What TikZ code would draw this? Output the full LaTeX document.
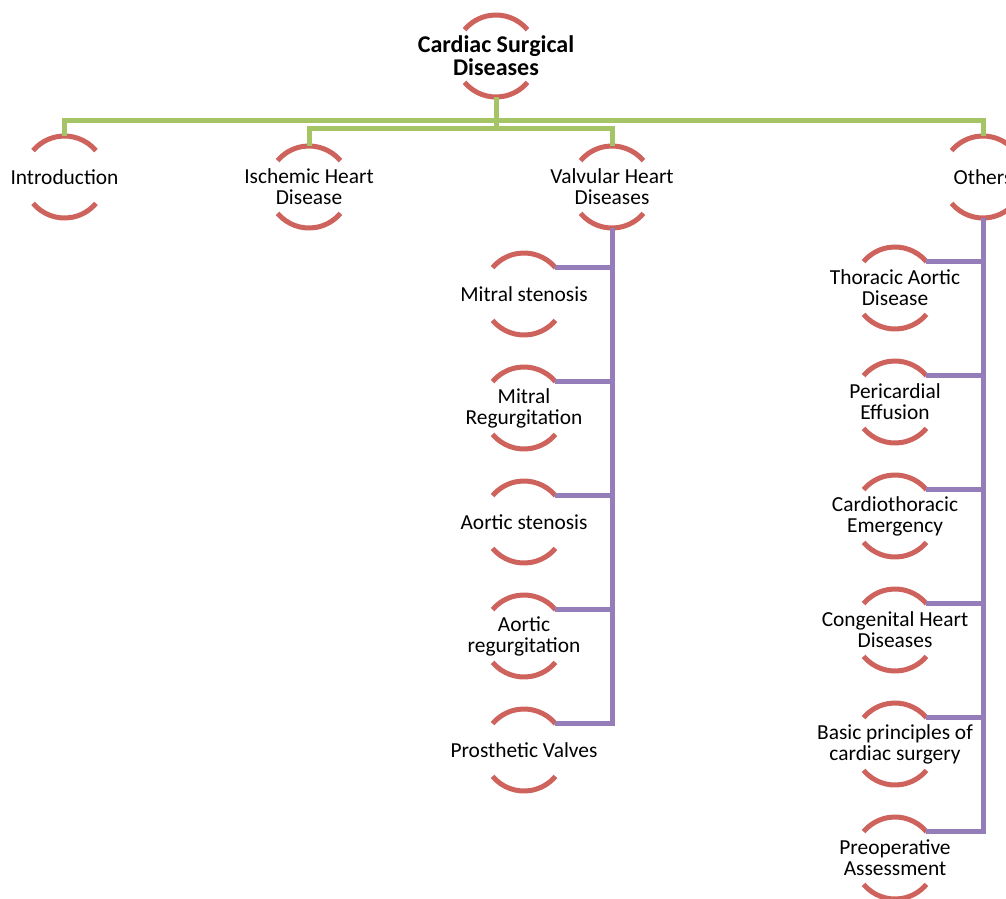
\documentclass[tikz,border=0pt]{standalone}
\usepackage{fontspec}
\setmainfont{Carlito}
\usetikzlibrary{calc}
\definecolor{ringred}{HTML}{CE625C}
\definecolor{lgreen}{HTML}{A4C466}
\definecolor{lpurple}{HTML}{957DBA}
\tikzset{
  ring/.style={circle,minimum size=82pt,inner sep=0pt,outer sep=0pt},
  txt/.style={align=center,font=\fontsize{21.4pt}{21pt}\selectfont,text=black,inner sep=0pt},
  ttl/.style={align=center,font=\fontsize{24pt}{23pt}\selectfont\bfseries,text=black,inner sep=0pt},
  arcst/.style={draw=ringred,line width=5pt},
  gline/.style={draw=lgreen,line width=5pt,line join=miter},
  pline/.style={draw=lpurple,line width=5pt,line join=miter},
}
\begin{document}
\begin{tikzpicture}[x=1pt,y=1pt]
\useasboundingbox (0,0) rectangle (1006,-898);
\clip (0,0) rectangle (1006,-898);
% rings
\node[ring] (root) at (496,-56) {};
\node[ring] (intro) at (64.5,-177) {};
\node[ring] (isch) at (309,-187) {};
\node[ring] (valv) at (612,-187) {};
\node[ring] (oth) at (983,-177) {};
\node[ring] (ms) at (524,-294) {};
\node[ring] (mr) at (524,-408) {};
\node[ring] (as) at (524,-522) {};
\node[ring] (ar) at (524,-636) {};
\node[ring] (pv) at (524,-750) {};
\node[ring] (ta) at (895,-288) {};
\node[ring] (pe) at (895,-402) {};
\node[ring] (ce) at (895,-516) {};
\node[ring] (cg) at (895,-630) {};
\node[ring] (bp) at (895,-744) {};
\node[ring] (pa) at (895,-858) {};
\foreach \n in {root,intro,isch,valv,oth,ms,mr,as,ar,pv,ta,pe,ce,cg,bp,pa}{
  \draw[arcst] (\n.40) arc[start angle=40,end angle=140,radius=41pt];
  \draw[arcst] (\n.220) arc[start angle=220,end angle=320,radius=41pt];
}
% green connectors
\coordinate (gA) at (0,-120);
\coordinate (gB) at (0,-128);
\draw[gline] (root.south) -- (root.south |- gB);
\draw[gline] (intro.north) -- (intro.north |- gA) -| (oth.north);
\draw[gline] (isch.north) -- (isch.north |- gB) -| (valv.north);
% purple connectors
\draw[pline] (valv.south) |- (pv.40);
\foreach \n in {ms,mr,as,ar}{\draw[pline] (\n.40) -- (\n.40 -| valv.south);}
\draw[pline] (oth.south) |- (pa.40);
\foreach \n in {ta,pe,ce,cg,bp}{\draw[pline] (\n.40) -- (\n.40 -| oth.south);}
% texts
\node[ttl] at (root) {Cardiac Surgical\\Diseases};
\node[txt] at (intro) {Introduction};
\node[txt] at (isch) {Ischemic Heart\\Disease};
\node[txt] at (valv) {Valvular Heart\\Diseases};
\node[txt] at (oth) {Others};
\node[txt] at (ms) {Mitral stenosis};
\node[txt] at (mr) {Mitral\\Regurgitation};
\node[txt] at (as) {Aortic stenosis};
\node[txt] at (ar) {Aortic\\regurgitation};
\node[txt] at (pv) {Prosthetic Valves};
\node[txt] at (ta) {Thoracic Aortic\\Disease};
\node[txt] at (pe) {Pericardial\\Effusion};
\node[txt] at (ce) {Cardiothoracic\\Emergency};
\node[txt] at (cg) {Congenital Heart\\Diseases};
\node[txt] at (bp) {Basic principles of\\cardiac surgery};
\node[txt] at (pa) {Preoperative\\Assessment};
\end{tikzpicture}
\end{document}
